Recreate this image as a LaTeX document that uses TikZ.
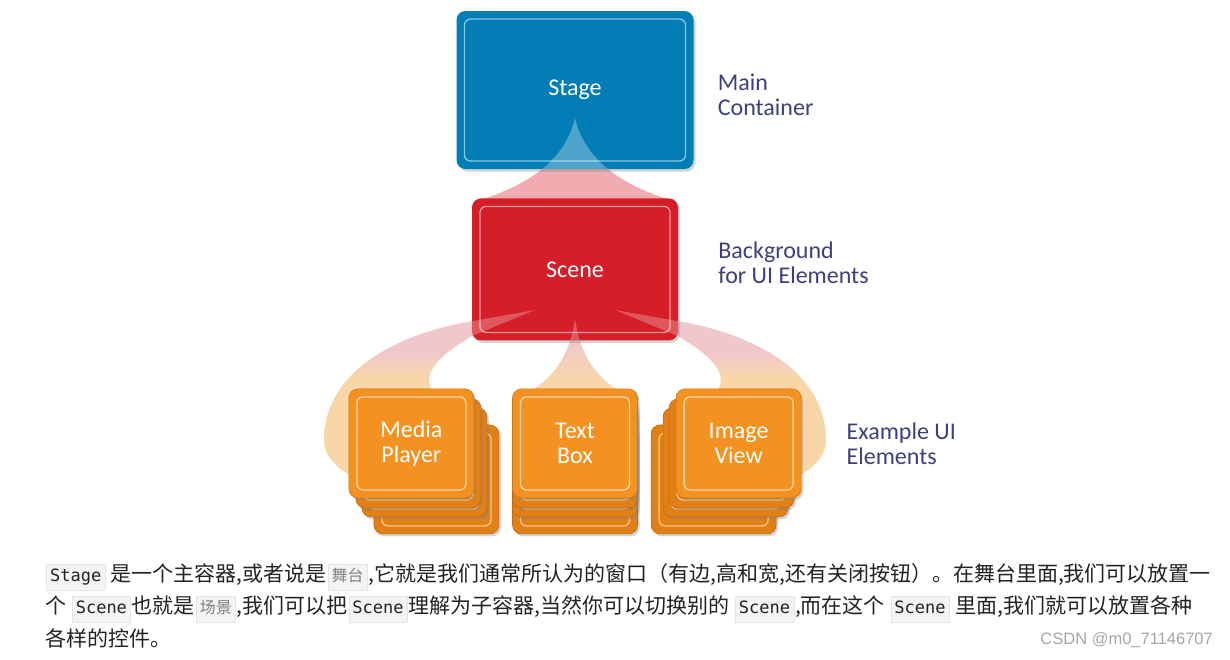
\documentclass[tikz,border=0pt]{standalone}
\usepackage{fontspec}
\setmainfont{Carlito}
\newfontfamily\cjkfont{Noto Sans CJK SC}
\newfontfamily\codefont{DejaVu Sans Mono}
\newfontfamily\markfont{Liberation Sans}
\usetikzlibrary{positioning,shadows}

\definecolor{stageblue}{RGB}{3,125,181}
\definecolor{scenered}{RGB}{213,30,39}
\definecolor{itemorange}{RGB}{243,146,32}
\definecolor{stackorange}{RGB}{226,128,24}
\definecolor{stackedge}{RGB}{196,104,16}
\definecolor{labelblue}{RGB}{60,64,126}
\definecolor{beampink}{RGB}{240,172,177}
\definecolor{bandpink}{RGB}{240,200,203}
\definecolor{bandorange}{RGB}{249,214,168}
\definecolor{bodytext}{RGB}{34,34,34}
\definecolor{codebg}{RGB}{243,244,245}
\definecolor{codeline}{RGB}{226,228,230}
\definecolor{marktext}{RGB}{165,165,165}

\pgfdeclarelayer{beams}
\pgfdeclarelayer{stack}
\pgfdeclarelayer{glow}
\pgfsetlayers{beams,stack,main,glow}

\pgfdeclareverticalshading{bandshade}{100bp}{color(0bp)=(bandorange); color(55bp)=(bandorange); color(62bp)=(bandpink); color(100bp)=(bandpink)}
\pgfdeclareverticalshading{beamshade}{100bp}{color(0bp)=(bandorange); color(32bp)=(bandorange); color(60bp)=(bandpink); color(100bp)=(bandpink)}

% inline code as in the article text
\newcommand\code[1]{\hspace{1pt}{\setlength\fboxsep{3.5pt}\fcolorbox{codeline}{codebg}{\rule[-5pt]{0pt}{18pt}\codefont\fontsize{17}{17}\selectfont #1}}\hspace{1pt}}
\newcommand\codecjk[1]{\hspace{1pt}{\setlength\fboxsep{3.5pt}\fcolorbox{codeline}{codebg}{\rule[-5pt]{0pt}{18pt}\cjkfont\fontsize{16}{16}\selectfont\color{gray}#1}}\hspace{1pt}}

% beam outlines
\newcommand\stagebeam{(575,-118) .. controls (565,-160) and (530,-185) .. (474,-202) -- (676,-202) .. controls (620,-185) and (585,-160) .. (575,-118) -- cycle}
\newcommand\leftband{(535,-310) -- ([yshift=-123pt]scene.north west) .. controls (400,-333) and (324,-370) .. (324,-440) .. controls (324,-455) and (335,-468) .. (355,-478) -- (440,-478) -- (432,-390) .. controls (422,-372) and (440,-355) .. ([yshift=-138pt]scene.north west) -- cycle}
\newcommand\rightband{(615,-310) -- ([yshift=-123pt]scene.north east) .. controls (750,-333) and (826,-370) .. (826,-440) .. controls (826,-455) and (815,-468) .. (795,-478) -- (710,-478) -- (718,-390) .. controls (728,-372) and (710,-355) .. ([yshift=-138pt]scene.north east) -- cycle}
\newcommand\midbeam{(575,-318) .. controls (571,-350) and (557,-376) .. (529,-392) -- (621,-392) .. controls (593,-376) and (579,-350) .. (575,-318) -- cycle}

\begin{document}
\begin{tikzpicture}[
  x=1pt, y=1pt,
  node distance=29pt,
  ringed/.style={path picture={\draw[draw=#1, line width=1.3pt, rounded corners=6pt]
      ([shift={(8pt,-8pt)}]path picture bounding box.north west) rectangle
      ([shift={(-8pt,8pt)}]path picture bounding box.south east);}},
  card/.style={rectangle, rounded corners=9pt, inner sep=0pt, text=white, align=center,
    font=\fontsize{24}{25}\selectfont,
    drop shadow={shadow xshift=2pt, shadow yshift=-2.5pt, opacity=0.35}},
  stagebox/.style={card, fill=stageblue, ringed=stageblue!45!white, minimum width=237pt, minimum height=158pt},
  scenebox/.style={card, fill=scenered, ringed=scenered!45!white, minimum width=206pt, minimum height=142pt},
  itembox/.style={card, fill=itemorange, draw=stackedge!70!itemorange, line width=0.6pt, ringed=itemorange!40!white, minimum width=125pt, minimum height=109pt},
  stackbox/.style={card, fill=stackorange, draw=stackedge, line width=0.6pt, ringed=itemorange!55!white, minimum width=125pt, minimum height=109pt},
  lbl/.style={text=labelblue, align=left, inner sep=0pt, font=\fontsize{24}{25}\selectfont},
  body/.style={text=bodytext, inner sep=0pt, font=\cjkfont\fontsize{21}{32}\selectfont}
]
  \useasboundingbox (0,0) rectangle (1230,-659);

  % boxes
  \node[stagebox] (stage) at (575,-90) {Stage};
  \node[scenebox, below=of stage] (scene) {Scene};
  \node[itembox, below=48pt of scene] (textbox) {Text\\Box};
  \node[itembox, left=38pt of textbox] (media) {Media\\Player};
  \node[itembox, right=38pt of textbox] (image) {Image\\View};

  % labels
  \node[lbl, right=24pt of stage, yshift=-5pt] (mainlbl) {Main\\Container};
  \node[lbl, right=40pt of scene, yshift=7pt] (scenelbl) {Background\\for UI Elements};
  \node[lbl, right=45pt of image] (itemlbl) {Example UI\\Elements};

  % stacked cards behind the items
  \begin{pgfonlayer}{stack}
    \foreach \k/\dy/\dm in {3/36/25, 2/19/13, 1/10/7} {
      \node[stackbox] (media-\k) at ([shift={(\dm pt,-\dy pt)}]media.center) {};
      \node[stackbox] (textbox-\k) at ([yshift=-\dy pt]textbox.center) {};
      \node[stackbox] (image-\k) at ([shift={(-\dm pt,-\dy pt)}]image.center) {};
    }
  \end{pgfonlayer}

  % beams
  \begin{pgfonlayer}{beams}
    \fill[beampink] \stagebeam;
    \shade[shading=bandshade] \leftband;
    \shade[shading=bandshade] \rightband;
    \shade[shading=beamshade] \midbeam;
  \end{pgfonlayer}

  \begin{pgfonlayer}{glow}
    \begin{scope}
      \clip[rounded corners=9pt] (stage.north west) rectangle (stage.south east);
      \fill[white, opacity=0.3] \stagebeam;
    \end{scope}
    \begin{scope}
      \clip[rounded corners=9pt] (scene.north west) rectangle (scene.south east);
      \fill[white, opacity=0.25] \leftband;
      \fill[white, opacity=0.25] \rightband;
      \fill[white, opacity=0.25] \midbeam;
    \end{scope}
  \end{pgfonlayer}

  % article text
  \node[body, anchor=base west] (line1) at (45,-581) {\code{Stage} 是一个主容器,或者说是\codecjk{舞台},它就是我们通常所认为的窗口（有边,高和宽,还有关闭按钮）。在舞台里面,我们可以放置一};
  \node[body, anchor=base west] (line2) at (45,-613) {个 \code{Scene}也就是\codecjk{场景},我们可以把\code{Scene}理解为子容器,当然你可以切换别的 \code{Scene},而在这个 \code{Scene} 里面,我们就可以放置各种};
  \node[body, anchor=base west] (line3) at (45,-646) {各样的控件。};
  \node[anchor=east, inner sep=0pt, text=marktext, font=\markfont\fontsize{16.5}{18}\selectfont] (mark) at (1213,-640) {CSDN @m0\_71146707};
\end{tikzpicture}
\end{document}
